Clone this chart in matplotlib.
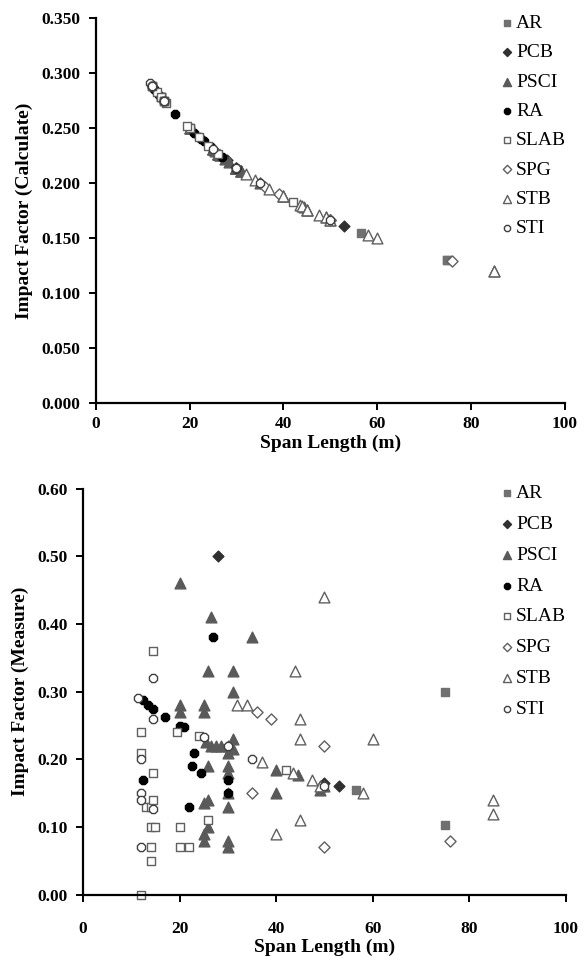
import matplotlib
matplotlib.use('Agg')
import matplotlib.pyplot as plt
from matplotlib.ticker import FormatStrFormatter

plt.rcParams['font.family'] = ['Liberation Serif', 'DejaVu Serif']

# span length (m), measured impact factor, calculated impact factor
AR_span = [56.5, 75, 75]
AR_meas = [0.155, 0.300, 0.103]
AR_calc = [0.155, 0.130, 0.130]

PCB_span = [28, 50, 53]
PCB_meas = [0.500, 0.165, 0.160]
PCB_calc = [0.221, 0.167, 0.161]

PSCI_span = [20, 20, 20, 25, 25, 25, 25, 25, 25.5, 26, 26, 26, 26, 26.5, 26.5, 27.5, 28.5,
             30, 30, 30, 30, 30, 30, 30, 30, 31, 31, 31, 31, 35, 40, 40, 44.5, 49, 50]
PSCI_meas = [0.46, 0.28, 0.27, 0.28, 0.27, 0.135, 0.09, 0.08, 0.225, 0.33, 0.19, 0.14, 0.10,
             0.41, 0.22, 0.22, 0.22, 0.22, 0.21, 0.19, 0.18, 0.15, 0.13, 0.08, 0.07,
             0.33, 0.30, 0.23, 0.215, 0.38, 0.15, 0.185, 0.177, 0.155, 0.16]
PSCI_calc = [0.250, 0.250, 0.250, 0.231, 0.231, 0.231, 0.231, 0.231, 0.229, 0.227, 0.227,
             0.227, 0.227, 0.226, 0.226, 0.222, 0.219, 0.214, 0.214, 0.214, 0.214, 0.214,
             0.214, 0.214, 0.214, 0.211, 0.211, 0.211, 0.211, 0.200, 0.188, 0.188, 0.178,
             0.169, 0.167]

RA_span = [12.5, 13.5, 14.5, 17, 20, 21, 22, 22.5, 23, 24.5, 27, 12.5, 30, 30]
RA_meas = [0.288, 0.280, 0.275, 0.263, 0.250, 0.248, 0.130, 0.190, 0.210, 0.180, 0.380,
           0.170, 0.170, 0.150]
RA_calc = [0.286, 0.280, 0.275, 0.263, 0.250, 0.246, 0.242, 0.240, 0.238, 0.233, 0.224,
           0.286, 0.214, 0.214]

SLAB_span = [12, 14, 14, 20, 22, 14, 15, 20, 13, 14, 14.5, 14.5, 12, 12, 14.5, 19.5, 24, 26, 42]
SLAB_meas = [0.00, 0.05, 0.07, 0.07, 0.07, 0.10, 0.10, 0.10, 0.13, 0.13, 0.14, 0.18, 0.21,
             0.24, 0.36, 0.24, 0.235, 0.11, 0.185]
SLAB_calc = [0.288, 0.278, 0.278, 0.250, 0.242, 0.278, 0.273, 0.250, 0.283, 0.278, 0.275,
             0.275, 0.288, 0.288, 0.275, 0.252, 0.234, 0.227, 0.183]

SPG_span = [35, 36, 39, 50, 50, 76]
SPG_meas = [0.15, 0.27, 0.26, 0.22, 0.07, 0.08]
SPG_calc = [0.200, 0.197, 0.190, 0.167, 0.167, 0.129]

STB_span = [32, 34, 37, 40, 43.5, 44, 45, 45, 45, 47.5, 49, 50, 58, 60, 85, 85]
STB_meas = [0.28, 0.28, 0.196, 0.09, 0.18, 0.33, 0.26, 0.23, 0.11, 0.17, 0.16, 0.44,
            0.15, 0.23, 0.14, 0.12]
STB_calc = [0.208, 0.203, 0.195, 0.188, 0.180, 0.179, 0.176, 0.176, 0.176, 0.171, 0.169,
            0.167, 0.153, 0.150, 0.120, 0.120]

STI_span = [11.5, 12, 12, 12, 12, 14.5, 14.5, 14.5, 25, 30, 35, 50]
STI_meas = [0.29, 0.20, 0.15, 0.14, 0.07, 0.32, 0.26, 0.127, 0.233, 0.22, 0.20, 0.16]
STI_calc = [0.291, 0.288, 0.288, 0.288, 0.288, 0.275, 0.275, 0.275, 0.231, 0.214, 0.200, 0.167]

groups = [
    ('AR', AR_span, AR_meas, AR_calc, dict(marker='s', s=28, c='#707070', edgecolors='#707070')),
    ('PCB', PCB_span, PCB_meas, PCB_calc, dict(marker='D', s=30, c='#303030', edgecolors='#303030')),
    ('PSCI', PSCI_span, PSCI_meas, PSCI_calc, dict(marker='^', s=60, c='#5a5a5a', edgecolors='#5a5a5a')),
    ('RA', RA_span, RA_meas, RA_calc, dict(marker='8', s=40, c='black', edgecolors='black')),
    ('SLAB', SLAB_span, SLAB_meas, SLAB_calc, dict(marker='s', s=30, c='white', edgecolors='#606060')),
    ('SPG', SPG_span, SPG_meas, SPG_calc, dict(marker='D', s=32, c='white', edgecolors='#606060')),
    ('STB', STB_span, STB_meas, STB_calc, dict(marker='^', s=60, c='white', edgecolors='#606060')),
    ('STI', STI_span, STI_meas, STI_calc, dict(marker='8', s=40, c='white', edgecolors='#404040')),
]

fig = plt.figure(figsize=(5.84, 9.56), dpi=100)
ax1 = fig.add_axes([0.164, 0.578, 0.803, 0.403])
ax2 = fig.add_axes([0.142, 0.064, 0.827, 0.425])


def style_axes(ax, ylim, yticks, fmt, ylabel, xpad, xlabelpad):
    ax.set_xlim(0, 100)
    ax.set_ylim(*ylim)
    ax.set_xticks(range(0, 101, 20))
    ax.set_yticks(yticks)
    ax.yaxis.set_major_formatter(FormatStrFormatter(fmt))
    for side in ['top', 'right']:
        ax.spines[side].set_visible(False)
    for side in ['left', 'bottom']:
        ax.spines[side].set_linewidth(1.6)
    ax.tick_params(direction='out', length=5, width=1.4, labelsize=12.5)
    ax.tick_params(axis='y', pad=6)
    ax.tick_params(axis='x', pad=xpad)
    for lab in ax.get_xticklabels() + ax.get_yticklabels():
        lab.set_fontweight('bold')
    ax.set_xlabel('Span Length (m)', fontsize=14, fontweight='bold', labelpad=xlabelpad)
    ax.set_ylabel(ylabel, fontsize=14, fontweight='bold', labelpad=6)


for name, span, meas, calc, kw in groups:
    ax1.scatter(span, calc, label=name, linewidths=1.0, clip_on=False, **kw)
    ax2.scatter(span, meas, label=name, linewidths=1.0, clip_on=False, **kw)

style_axes(ax1, (0, 0.35), [0, 0.05, 0.1, 0.15, 0.2, 0.25, 0.3, 0.35], '%.3f',
           'Impact Factor (Calculate)', 4, 2)
style_axes(ax2, (0, 0.6), [0, 0.1, 0.2, 0.3, 0.4, 0.5, 0.6], '%.2f',
           'Impact Factor (Measure)', 14, 1)

leg_kw = dict(loc='upper left', frameon=False, fontsize=14, handletextpad=0.0,
              handlelength=1.0, borderpad=0, markerscale=0.75,
              bbox_transform=fig.transFigure)
ax1.legend(bbox_to_anchor=(0.834, 0.995), labelspacing=0.6, **leg_kw)
ax2.legend(bbox_to_anchor=(0.834, 0.503), labelspacing=0.675, **leg_kw)

fig.savefig('out.png', dpi=100)
